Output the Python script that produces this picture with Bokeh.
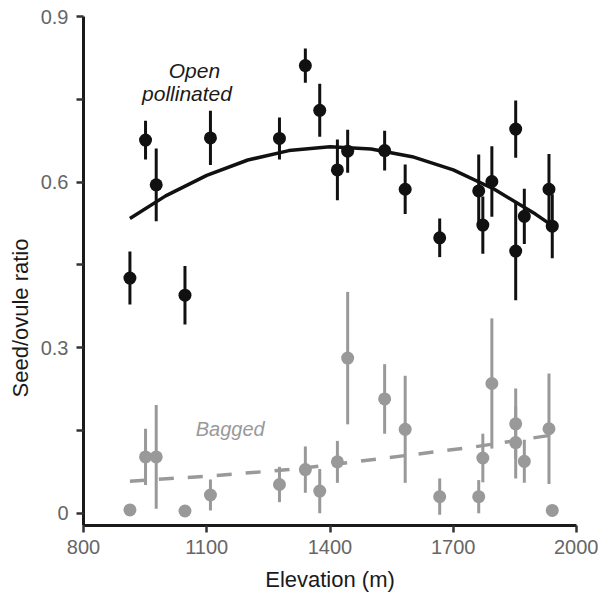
import math
from bokeh.plotting import figure
from bokeh.models import Range1d, FixedTicker, Label, Title
from bokeh.embed import file_html
from bokeh.resources import INLINE

# ---- data ----
open_elev = [913, 951, 977, 1047, 1109, 1277, 1340, 1375, 1418, 1443, 1533,
             1583, 1667, 1762, 1772, 1794, 1852, 1852, 1873, 1933, 1941]
open_ratio = [0.426, 0.676, 0.595, 0.395, 0.680, 0.679, 0.811, 0.730, 0.622, 0.656, 0.657,
              0.587, 0.499, 0.584, 0.522, 0.601, 0.696, 0.475, 0.538, 0.587, 0.520]
open_err = [0.048, 0.035, 0.066, 0.053, 0.049, 0.038, 0.031, 0.048, 0.055, 0.039, 0.036,
            0.045, 0.035, 0.066, 0.052, 0.064, 0.052, 0.089, 0.050, 0.064, 0.058]

bag_elev = [913, 951, 977, 1047, 1109, 1277, 1340, 1375, 1418, 1443, 1533,
            1583, 1667, 1762, 1772, 1794, 1852, 1852, 1873, 1933, 1941]
bag_ratio = [0.006, 0.102, 0.102, 0.004, 0.033, 0.052, 0.079, 0.040, 0.093, 0.281, 0.207,
             0.152, 0.030, 0.030, 0.100, 0.235, 0.162, 0.128, 0.094, 0.153, 0.005]
bag_err = [0.0, 0.051, 0.094, 0.0, 0.028, 0.032, 0.042, 0.040, 0.038, 0.120, 0.063,
           0.097, 0.033, 0.030, 0.044, 0.118, 0.064, 0.065, 0.039, 0.100, 0.0]

# fitted curves
open_fit_elev = [913, 1000, 1100, 1200, 1300, 1400, 1500, 1600, 1700, 1800, 1900, 1941]
open_fit_ratio = [0.534, 0.575, 0.612, 0.640, 0.657, 0.664, 0.660, 0.646, 0.622, 0.587, 0.542, 0.521]
bag_fit_elev = [913, 1100, 1300, 1450, 1600, 1750, 1935]
bag_fit_ratio = [0.058, 0.067, 0.079, 0.092, 0.106, 0.120, 0.141]

x_ticks = [800, 1100, 1400, 1700, 2000]
y_ticks = [0, 0.3, 0.6, 0.9]
y_tick_labels = ["0", "0.3", "0.6", "0.9"]
y_minor = [0.15, 0.45, 0.75]

BLACK = "#111111"
GREY = "#999999"
FONT = "Liberation Sans"

p = figure(width=598, height=594, output_backend="svg", toolbar_location=None,
           x_range=Range1d(800, 2000), y_range=Range1d(-0.0223, 0.9),
           min_border_left=80, min_border_right=22, min_border_top=16, min_border_bottom=69)
p.outline_line_color = None
p.xgrid.visible = False
p.ygrid.visible = False
p.background_fill_color = "white"
p.border_fill_color = "white"

# fitted lines
p.line(open_fit_elev, open_fit_ratio, line_color=BLACK, line_width=3.5)
p.line(bag_fit_elev, bag_fit_ratio, line_color=GREY, line_width=3.5, line_dash="15 14")

# error bars
p.segment(x0=bag_elev, y0=[v - e for v, e in zip(bag_ratio, bag_err)],
          x1=bag_elev, y1=[v + e for v, e in zip(bag_ratio, bag_err)],
          line_color=GREY, line_width=3)
p.segment(x0=open_elev, y0=[v - e for v, e in zip(open_ratio, open_err)],
          x1=open_elev, y1=[v + e for v, e in zip(open_ratio, open_err)],
          line_color=BLACK, line_width=3)

# points
p.scatter(bag_elev, bag_ratio, size=13, fill_color=GREY, line_color=None)
p.scatter(open_elev, open_ratio, size=13, fill_color=BLACK, line_color=None)

# axes
for ax in (p.xaxis[0], p.yaxis[0]):
    ax.axis_line_width = 3
    ax.axis_line_color = "#1a1a1a"
    ax.major_tick_line_width = 2.5
    ax.major_tick_line_color = "#333333"
    ax.major_tick_in = 0
    ax.major_tick_out = 7
    ax.minor_tick_line_width = 2.5
    ax.minor_tick_line_color = "#333333"
    ax.minor_tick_in = 0
    ax.minor_tick_out = 7
    ax.major_label_text_font = FONT
    ax.major_label_text_font_size = "20px"
    ax.major_label_text_color = "#666666"

p.xaxis.ticker = FixedTicker(ticks=x_ticks)
p.xaxis.major_label_standoff = 7
p.xaxis.axis_label = "Elevation (m)"
p.xaxis.axis_label_text_font = FONT
p.xaxis.axis_label_text_font_size = "22px"
p.xaxis.axis_label_text_font_style = "normal"
p.xaxis.axis_label_text_color = "#1a1a1a"
p.xaxis.axis_label_standoff = 10

p.yaxis.ticker = FixedTicker(ticks=y_ticks, minor_ticks=y_minor)
p.yaxis.major_label_overrides = {t: l for t, l in zip(y_ticks, y_tick_labels)}
p.yaxis.major_label_standoff = 8

# y axis label as a side title (positioned like the reference)
p.add_layout(Title(text="Seed/ovule ratio", align="left", offset=128,
                   text_font=FONT, text_font_size="22px", text_font_style="normal",
                   text_color="#1a1a1a", standoff=10), "left")

# series annotations
p.add_layout(Label(x=1070, y=0.802, text="Open", text_align="center",
                   text_baseline="alphabetic", text_font=FONT, text_font_size="21px",
                   text_font_style="italic", text_color="#1a1a1a"))
p.add_layout(Label(x=1052, y=0.761, text="pollinated", text_align="center",
                   text_baseline="alphabetic", text_font=FONT, text_font_size="21px",
                   text_font_style="italic", text_color="#1a1a1a"))
p.add_layout(Label(x=1157, y=0.153, text="Bagged", text_align="center",
                   text_baseline="alphabetic", text_font=FONT, text_font_size="20px",
                   text_font_style="italic", text_color=GREY))

open("out.html", "w").write(file_html(p, INLINE))
